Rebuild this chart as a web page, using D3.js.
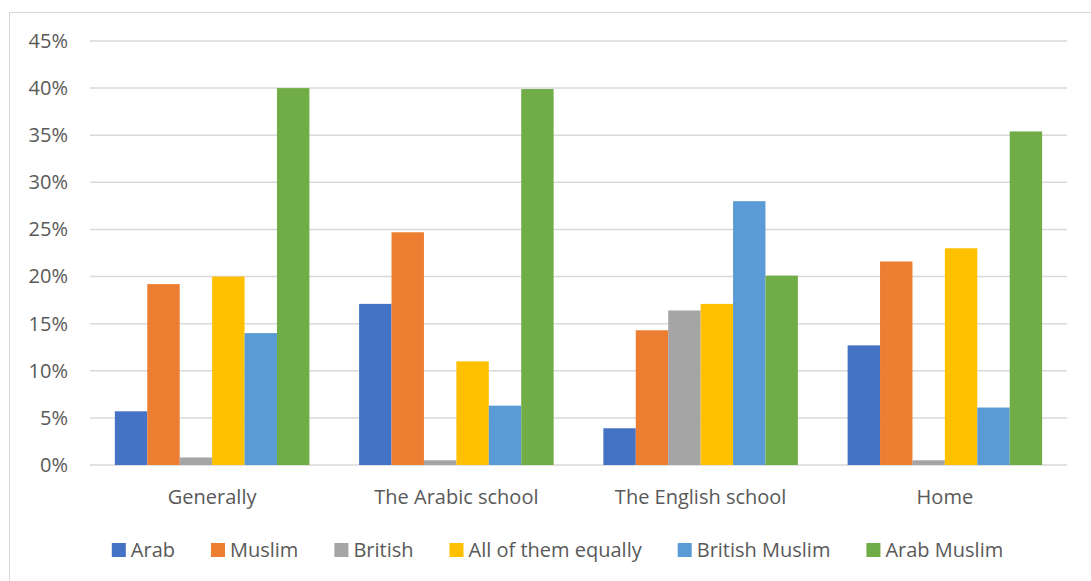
<!DOCTYPE html>
<html>
<head>
<meta charset="utf-8">
<script src="https://cdn.jsdelivr.net/npm/d3@7"></script>
<style>
  html, body { margin: 0; padding: 0; background: #fff; }
  svg { display: block; }
  text { font-family: "Open Sans", "Liberation Sans", sans-serif; fill: #595959; }
</style>
</head>
<body>
<svg id="chart" width="1091" height="581"></svg>
<script>
// Contexts on the x axis
const categories = ["Generally", "The Arabic school", "The English school", "Home"];

// Identity options, in legend / bar order
const seriesNames = ["Arab", "Muslim", "British", "All of them equally", "British Muslim", "Arab Muslim"];
const seriesColors = ["#4472C4", "#ED7D31", "#A5A5A5", "#FFC000", "#5B9BD5", "#70AD47"];

// Percentages per series, one value per context
const arab            = [5.7, 17.1, 3.9, 12.7];
const muslim          = [19.2, 24.7, 14.3, 21.6];
const british         = [0.8, 0.5, 16.4, 0.5];
const allEqually      = [20.0, 11.0, 17.1, 23.0];
const britishMuslim   = [14.0, 6.3, 28.0, 6.1];
const arabMuslim      = [40.0, 39.9, 20.1, 35.4];

const yTicks = [0, 5, 10, 15, 20, 25, 30, 35, 40, 45];

const seriesValues = [arab, muslim, british, allEqually, britishMuslim, arabMuslim];

const FONT = "20px";

const svg = d3.select("#chart");

// Chart frame
svg.append("rect")
  .attr("x", 9.5).attr("y", 12.5)
  .attr("width", 1200).attr("height", 700)
  .attr("fill", "none").attr("stroke", "#d9d9d9").attr("stroke-width", 1);

const plot = { left: 90, right: 1067, top: 41, bottom: 465 };

const x0 = d3.scaleBand()
  .domain(categories)
  .range([plot.left, plot.right])
  .paddingInner(0.2036)
  .paddingOuter(0.1018);

const x1 = d3.scaleBand()
  .domain(seriesNames)
  .range([0, x0.bandwidth()]);

const y = d3.scaleLinear()
  .domain([0, 45])
  .range([plot.bottom, plot.top]);

// Horizontal gridlines
svg.append("g")
  .selectAll("line")
  .data(yTicks)
  .join("line")
  .attr("x1", plot.left).attr("x2", plot.right)
  .attr("y1", d => y(d)).attr("y2", d => y(d))
  .attr("stroke", "#d9d9d9").attr("stroke-width", 1.5);

// Y axis labels
const yAxis = d3.axisLeft(y)
  .tickValues(yTicks)
  .tickFormat(d => d + "%")
  .tickSize(0)
  .tickPadding(0);
const yg = svg.append("g")
  .attr("transform", `translate(${plot.left - 22},0)`)
  .call(yAxis);
yg.select(".domain").remove();
yg.selectAll("text")
  .style("font-size", FONT)
  .style("font-family", "'Open Sans', sans-serif")
  .attr("fill", "#595959");

// Bars
const rows = [];
seriesNames.forEach((s, si) => {
  categories.forEach((c, ci) => {
    rows.push({ series: s, category: c, value: seriesValues[si][ci], color: seriesColors[si] });
  });
});

svg.append("g")
  .selectAll("rect")
  .data(rows)
  .join("rect")
  .attr("x", d => x0(d.category) + x1(d.series))
  .attr("y", d => y(d.value))
  .attr("width", x1.bandwidth())
  .attr("height", d => y(0) - y(d.value))
  .attr("fill", d => d.color);

// Category axis labels
const xAxis = d3.axisBottom(x0).tickSize(0).tickPadding(0);
const xg = svg.append("g")
  .attr("transform", `translate(0,${plot.bottom + 25})`)
  .call(xAxis);
xg.select(".domain").remove();
xg.selectAll("text")
  .style("font-size", FONT)
  .style("font-family", "'Open Sans', sans-serif")
  .attr("fill", "#595959");

// Legend
const legend = svg.append("g");
const items = legend.selectAll("g")
  .data(seriesNames)
  .join("g");
items.append("rect")
  .attr("width", 14).attr("height", 14)
  .attr("y", -7)
  .attr("fill", (d, i) => seriesColors[i]);
items.append("text")
  .attr("x", 19)
  .attr("dy", "0.35em")
  .style("font-size", FONT)
  .text(d => d);

let cursor = 0;
const gap = 36;
items.each(function () {
  const g = d3.select(this);
  g.attr("transform", `translate(${cursor},0)`);
  const w = 19 + g.select("text").node().getComputedTextLength();
  cursor += w + gap;
});
const total = cursor - gap;
legend.attr("transform", `translate(${557.5 - total / 2},550)`);
</script>
</body>
</html>
